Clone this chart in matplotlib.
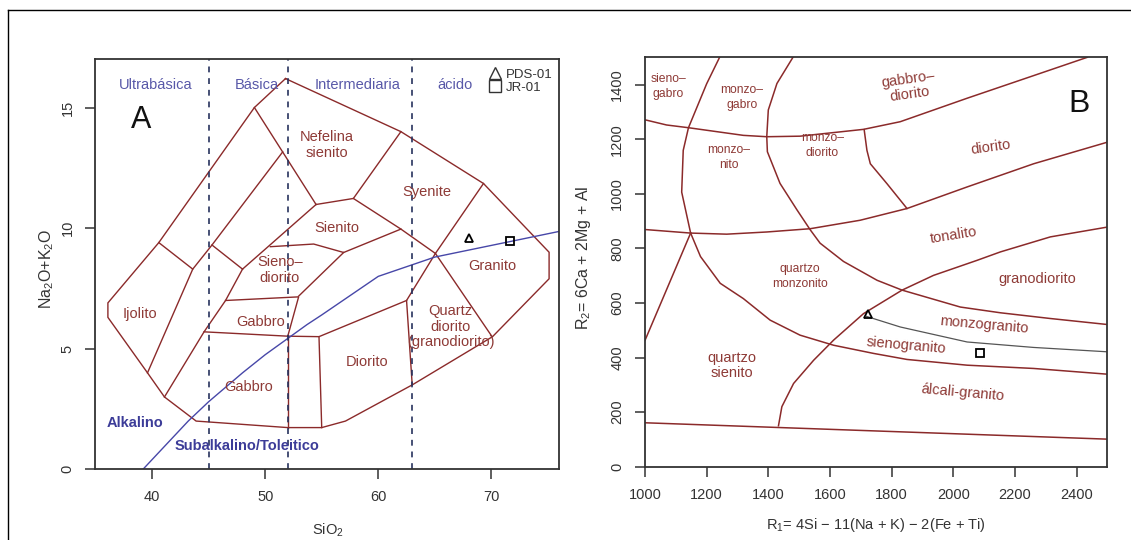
import matplotlib
matplotlib.use("Agg")
import matplotlib.pyplot as plt
from matplotlib.lines import Line2D
import numpy as np

plt.rcParams['font.family'] = ['Liberation Sans', 'DejaVu Sans']
plt.rcParams['mathtext.fontset'] = 'custom'
plt.rcParams['mathtext.rm'] = 'Liberation Sans'
plt.rcParams['mathtext.it'] = 'Liberation Sans:italic'

BROWN = '#8b2a2a'
TXT_BROWN = '#8e3a36'
BLUE = '#4747a8'
NAVY = '#27325e'
GREY = '#333333'

# ---------------- Panel A data (SiO2, Na2O+K2O) ----------------
tas_outer_x = [51.8, 49.05, 40.6, 36.1, 36.1, 39.6, 41.1, 43.9, 52.0, 55.0, 57.1, 63.0, 70.1, 75.1, 75.1, 69.3, 62.0, 51.8]
tas_outer_y = [16.2, 15.0, 9.4, 6.9, 6.3, 4.0, 3.0, 2.0, 1.73, 1.73, 2.0, 3.5, 5.5, 7.9, 9.0, 11.85, 14.0, 16.2]
tas_l1_x = [40.6, 43.6, 39.6];          tas_l1_y = [9.4, 8.3, 4.0]
tas_l2_x = [49.05, 54.5];               tas_l2_y = [15.0, 10.98]
tas_l3_x = [51.55, 45.3, 43.6];         tas_l3_y = [13.16, 9.3, 8.3]
tas_l4_x = [45.3, 48.0];                tas_l4_y = [9.3, 8.3]
tas_l5_x = [48.0, 46.5, 44.6, 41.1];    tas_l5_y = [8.3, 7.0, 5.7, 3.0]
tas_l6_x = [54.5, 48.0];                tas_l6_y = [10.98, 8.3]
tas_l7_x = [54.5, 57.8, 62.0];          tas_l7_y = [10.98, 11.23, 14.0]
tas_l8_x = [57.8, 62.0, 65.05];         tas_l8_y = [11.23, 9.96, 8.95]
tas_l9_x = [50.46, 54.29, 56.94, 62.0]; tas_l9_y = [9.23, 9.34, 8.99, 9.96]
tas_l10_x = [56.94, 52.96];             tas_l10_y = [8.99, 7.18]
tas_l11_x = [46.5, 52.96, 52.0];        tas_l11_y = [7.0, 7.15, 5.52]
tas_l12_x = [44.6, 52.0, 54.76, 62.5];  tas_l12_y = [5.7, 5.52, 5.5, 7.0]
tas_l13_x = [52.0, 52.0];               tas_l13_y = [5.52, 1.73]
tas_l14_x = [54.76, 55.0];              tas_l14_y = [5.5, 1.73]
tas_l15_x = [69.3, 65.05, 62.5, 63.0];  tas_l15_y = [11.85, 8.95, 7.0, 3.5]
tas_l16_x = [65.05, 70.06];             tas_l16_y = [8.95, 5.5]

ib_x = [39.2, 40, 43.2, 45, 48, 50, 53.7, 55, 60, 65, 77.4]
ib_y = [0, 0.4, 2, 2.8, 4, 4.75, 6, 6.4, 8, 8.8, 10]

div_x = [45, 52, 63]
class_names = ['Ultrabásica', 'Básica', 'Intermediaria', 'ácido']
class_x = [40.3, 49.3, 58.2, 66.8]

tas_labels = ['Nefelina\nsienito', 'Syenite', 'Sienito', 'Granito', 'Sieno–\ndiorito', 'Ijolito',
              'Gabbro', 'Gabbro', 'Diorito', 'Quartz\ndiorito\n(granodiorito)']
tas_label_x = [55.47, 64.3, 56.36, 70.06, 51.3, 38.97, 49.58, 48.54, 59.01, 66.39]
tas_label_y = [13.44, 11.5, 9.99, 8.43, 8.26, 6.46, 6.12, 3.42, 4.43, 5.91]

samples = ['PDS-01', 'JR-01']
sample_markers = ['^', 's']
sio2 = [68.0, 71.6]
alk = [9.6, 9.47]

# ---------------- Panel B data (R1, R2) ----------------
r_c1_x = [1242, 1200, 1141, 1124, 1119, 1148]
r_c1_y = [1500, 1403, 1242, 1159, 1006, 856]
r_c2_x = [1000, 1148]
r_c2_y = [463, 856]
r_c3_x = [1000, 1070, 1141, 1319, 1395, 1503, 1709, 1828, 2045, 2261, 2435]
r_c3_y = [1271, 1252, 1242, 1214, 1209, 1211, 1236, 1264, 1350, 1433, 1500]
r_c4_x = [1480, 1428, 1400, 1395, 1397, 1438, 1493, 1536, 1568, 1644, 1753, 1834, 2023, 2153, 2315, 2500]
r_c4_y = [1500, 1404, 1307, 1209, 1154, 1038, 941, 868, 819, 752, 683, 647, 585, 564, 543, 521]
r_c5_x = [1000, 1148, 1265, 1395, 1536, 1698, 1850, 2045, 2261, 2500]
r_c5_y = [869, 856, 852, 860, 872, 903, 946, 1025, 1110, 1189]
r_c6_x = [1433, 1444, 1482, 1547, 1612, 1709, 1834, 1936, 2077, 2153, 2315, 2500]
r_c6_y = [150, 220, 305, 390, 464, 561, 647, 701, 756, 787, 842, 878]
r_c7_x = [1711, 1720, 1731, 1785, 1850]
r_c7_y = [1235, 1159, 1110, 1037, 946]
r_c8_x = [1148, 1180, 1244, 1319, 1406, 1503, 1612, 1742, 1850, 2045, 2261, 2500]
r_c8_y = [856, 770, 672, 616, 537, 482, 445, 415, 393, 372, 360, 339]
r_c9_x = [1000, 2500]
r_c9_y = [161, 101]
r_grey_x = [1718, 1828, 2045, 2261, 2500]
r_grey_y = [551, 512, 457, 437, 421]

r_labels_small = ['sieno–\ngabro', 'monzo–\ngabro', 'monzo–\nnito', 'monzo–\ndiorito', 'quartzo\nmonzonito']
r_small_x = [1076, 1314, 1271, 1575, 1502]
r_small_y = [1392, 1353, 1134, 1177, 698]
r_labels_big = ['gabbro–\ndiorito', 'diorito', 'tonalito', 'granodiorito', 'monzogranito',
                'sienogranito', 'quartzo\nsienito', 'álcali-granito']
r_big_x = [1856, 2121, 2001, 2272, 2100, 1848, 1282, 2032]
r_big_y = [1392, 1171, 848, 689, 518, 445, 371, 271]
r_big_rot = [8, 8, 9, 0, -5, -5, 0, -5]

r1 = [1725, 2088]
r2 = [561, 415]

# ---------------- Figure ----------------
fig = plt.figure(figsize=(11.31, 5.40), dpi=100)
axA = fig.add_axes([0.0844, 0.1309, 0.4101, 0.7593])
axB = fig.add_axes([0.5703, 0.1357, 0.4088, 0.7582])

for ax in (axA, axB):
    for s in ax.spines.values():
        s.set_color(GREY)
        s.set_linewidth(1.3)
    ax.tick_params(direction='out', length=7, width=1.1, color=GREY, labelcolor=GREY,
                   labelsize=10.5, pad=8)

# Panel A
lw = 1.0
for xs, ys in [(tas_outer_x, tas_outer_y), (tas_l1_x, tas_l1_y), (tas_l2_x, tas_l2_y),
               (tas_l3_x, tas_l3_y), (tas_l4_x, tas_l4_y), (tas_l5_x, tas_l5_y),
               (tas_l6_x, tas_l6_y), (tas_l7_x, tas_l7_y), (tas_l8_x, tas_l8_y),
               (tas_l9_x, tas_l9_y), (tas_l10_x, tas_l10_y), (tas_l11_x, tas_l11_y),
               (tas_l12_x, tas_l12_y), (tas_l13_x, tas_l13_y), (tas_l14_x, tas_l14_y),
               (tas_l15_x, tas_l15_y), (tas_l16_x, tas_l16_y)]:
    axA.plot(xs, ys, color=BROWN, lw=lw, solid_joinstyle='miter')

axA.plot(ib_x, ib_y, color=BLUE, lw=1.0)
for x in div_x:
    axA.axvline(x, color=NAVY, lw=1.2, ls=(0, (3.5, 3.5)))

for name, x in zip(class_names, class_x):
    axA.text(x, 15.95, name, color='#5858a8', fontsize=10.5, ha='center', va='center')

for lab, x, y in zip(tas_labels, tas_label_x, tas_label_y):
    axA.text(x, y, lab, color=TXT_BROWN, fontsize=10.5, ha='center', va='center', linespacing=1.15)

axA.text(38.5, 1.9, 'Alkalino', color='#3c3c98', fontsize=10.5, fontweight='bold', ha='center', va='center')
axA.text(48.4, 0.95, 'Subalkalino/Toleitico', color='#3c3c98', fontsize=10.5, fontweight='bold',
         ha='center', va='center')
axA.text(39.0, 14.5, 'A', fontsize=22, color='#111111', ha='center', va='center')

handles = []
for nm, mk, x, y in zip(samples, sample_markers, sio2, alk):
    axA.plot([x], [y], marker=mk, ls='none', ms=6, mfc='none', mec='black', mew=1.3)
    handles.append(Line2D([], [], marker=mk, ls='none', ms=8, mfc='none', mec='#333333', mew=1.0, label=nm))
axA.legend(handles=handles, loc='upper right', bbox_to_anchor=(1.005, 1.0), frameon=False,
           fontsize=9.5, handlelength=0.8, handletextpad=0.4, borderaxespad=0.3,
           labelspacing=0.05, labelcolor='#333333')

axA.set_xlim(35, 76)
axA.set_ylim(0, 17)
axA.set_xticks([40, 50, 60, 70])
axA.set_yticks([0, 5, 10, 15])
for t in axA.get_yticklabels():
    t.set_rotation(90)
    t.set_va('center')
axA.set_xlabel('SiO$_2$', fontsize=10.5, color=GREY, va='center')
axA.xaxis.set_label_coords(0.5, -0.148)
axA.set_ylabel('Na$_2$O+K$_2$O', fontsize=11.5, color=GREY, va='center', ha='center')
axA.yaxis.set_label_coords(-0.105, 0.488)

# Panel B
for xs, ys in [(r_c1_x, r_c1_y), (r_c2_x, r_c2_y), (r_c3_x, r_c3_y), (r_c4_x, r_c4_y),
               (r_c5_x, r_c5_y), (r_c6_x, r_c6_y), (r_c7_x, r_c7_y), (r_c8_x, r_c8_y),
               (r_c9_x, r_c9_y)]:
    axB.plot(xs, ys, color=BROWN, lw=1.1)
axB.plot(r_grey_x, r_grey_y, color='#555555', lw=0.9)

for lab, x, y in zip(r_labels_small, r_small_x, r_small_y):
    axB.text(x, y, lab, color=TXT_BROWN, fontsize=8.7, ha='center', va='center', linespacing=1.3)
for lab, x, y, r in zip(r_labels_big, r_big_x, r_big_y, r_big_rot):
    axB.text(x, y, lab, color=TXT_BROWN, fontsize=10.5, ha='center', va='center', rotation=r,
             rotation_mode='anchor', linespacing=1.15)
axB.text(2407, 1330, 'B', fontsize=23, color='#111111', ha='center', va='center')

for mk, x, y in zip(sample_markers, r1, r2):
    axB.plot([x], [y], marker=mk, ls='none', ms=6, mfc='none', mec='black', mew=1.3)

axB.set_xlim(1000, 2500)
axB.set_ylim(0, 1500)
axB.set_xticks(np.arange(1000, 2401, 200))
axB.set_yticks(np.arange(0, 1401, 200))
for t in axB.get_yticklabels():
    t.set_rotation(90)
    t.set_va('center')
axB.set_xlabel('R$_1$= 4Si − 11(Na + K) − 2(Fe + Ti)', fontsize=10.5, color=GREY, va='center')
axB.xaxis.set_label_coords(0.5, -0.142)
axB.set_ylabel('R$_2$= 6Ca + 2Mg + Al', fontsize=11.5, color=GREY, va='center', ha='center')
axB.yaxis.set_label_coords(-0.134, 0.511)

# outer frame (top and left edges visible)
fig.add_artist(Line2D([8/1131, 1.0], [1 - 10/540, 1 - 10/540], transform=fig.transFigure, color='black', lw=1.0))
fig.add_artist(Line2D([8/1131, 8/1131], [0.0, 1 - 10/540], transform=fig.transFigure, color='black', lw=1.0))

fig.savefig('out.png', dpi=100)
